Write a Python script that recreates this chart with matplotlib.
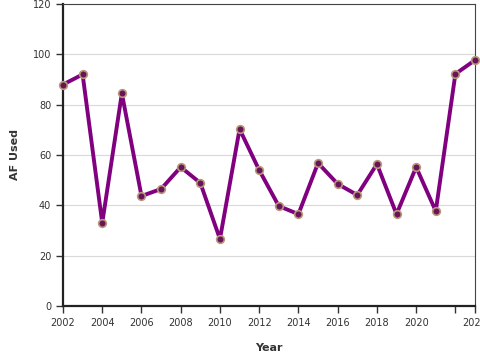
import matplotlib
matplotlib.use("Agg")
import matplotlib.pyplot as plt

years = [2002, 2003, 2004, 2005, 2006, 2007, 2008, 2009, 2010, 2011, 2012,
         2013, 2014, 2015, 2016, 2017, 2018, 2019, 2020, 2021, 2022, 2023]
af_used = [88, 92, 33, 84.5, 43.7, 46.5, 55.2, 48.9, 26.6, 70.3, 54,
           39.7, 36.5, 56.8, 48.5, 44.1, 56.4, 36.5, 55.2, 37.7, 92.2, 97.7]
x_ticks = [2002, 2004, 2006, 2008, 2010, 2012, 2014, 2016, 2018, 2020, 2022, 2023]
x_tick_labels = ["2002", "2004", "2006", "2008", "2010", "2012", "2014", "2016",
                 "2018", "2020", "", "2023"]
y_ticks = [0, 20, 40, 60, 80, 100, 120]

fig = plt.figure(figsize=(4.8, 3.6), dpi=100)
ax = fig.add_axes([63 / 480, 54 / 360, 412 / 480, 302 / 360])

ax.plot(years, af_used, color="#800080", linewidth=2.8, zorder=3, clip_on=False,
        marker="o", markersize=5.5, markerfacecolor="#6a1458",
        markeredgecolor="#b8987c", markeredgewidth=1.2)

ax.set_xlim(2002, 2023)
ax.set_ylim(0, 120)
ax.set_xticks(x_ticks)
ax.set_xticklabels(x_tick_labels)
ax.set_yticks(y_ticks)
ax.yaxis.grid(True, color="#d9d9d9", linewidth=0.8)
ax.set_axisbelow(True)

for side in ["left", "bottom"]:
    ax.spines[side].set_linewidth(1.6)
    ax.spines[side].set_color("#222222")
for side in ["top", "right"]:
    ax.spines[side].set_linewidth(0.8)
    ax.spines[side].set_color("#444444")

ax.tick_params(axis="both", labelsize=7, colors="#333333", length=5, width=1)
ax.set_xlabel("Year", fontsize=8, fontweight="bold", color="#333333", labelpad=11)
ax.set_ylabel("AF Used", fontsize=8, fontweight="bold", color="#333333", labelpad=9)

plt.savefig("out.png", dpi=100)
